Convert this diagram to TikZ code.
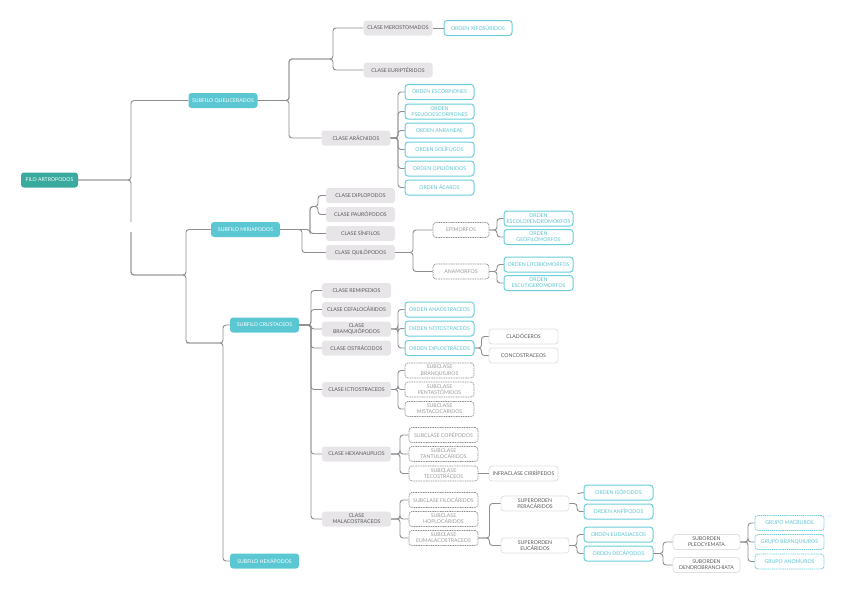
\documentclass[tikz,border=0pt]{standalone}
\usepackage{fontspec}
\setmainfont{Lato}
\definecolor{filoc}{HTML}{3AAA9F}
\definecolor{subc}{HTML}{5BC7D3}
\definecolor{cyanb}{HTML}{6ACFDA}
\definecolor{cyant}{HTML}{5CC4D1}
\definecolor{classf}{HTML}{E7E5E8}
\definecolor{classt}{HTML}{595959}
\definecolor{lineg}{HTML}{8E8E8E}
\definecolor{dashg}{HTML}{8C8C8C}
\definecolor{dasht}{HTML}{9A9A9A}
\definecolor{lightb}{HTML}{E0E0E0}
\begin{document}
\begin{tikzpicture}[x=1pt,y=-1pt,
  box/.style={rounded corners=3pt, minimum width=69pt, minimum height=15pt, inner sep=1pt, align=center, font=\fontsize{5.2}{6.2}\selectfont},
  filo/.style={box, fill=filoc, text=white, minimum width=57pt},
  sub/.style={box, fill=subc, text=white},
  cls/.style={box, fill=classf, text=classt},
  ord/.style={box, draw=cyanb, line width=1pt, fill=white, text=cyant},
  dsh/.style={box, draw=dashg, dash pattern=on 1pt off 0.7pt, line width=0.7pt, fill=white, text=dasht},
  plain/.style={box, draw=lightb, line width=0.8pt, fill=white, text=classt},
  grp/.style={box, draw=cyanb, dash pattern=on 1.2pt off 0.7pt, line width=0.9pt, fill=white, text=cyant},
  conn/.style={draw=lineg, line width=0.9pt, rounded corners=3pt}]
\useasboundingbox (0,0) rectangle (848,595);
% nodes
\node[filo] (filo) at (49.5,180) {FILO ARTROPODOS};
\node[sub] (quel) at (223,100.5) {SUBFILO QUELICERADOS};
\node[sub] (miri) at (245.5,229.5) {SUBFILO MIRIAPODOS};
\node[sub] (crus) at (264.5,325) {SUBFILO CRUSTACEOS};
\node[sub] (hexa) at (264.5,561) {SUBFILO HEXÁPODOS};
\node[cls] (mero) at (398,28) {CLASE MEROSTOMADOS};
\node[cls] (euri) at (398,70) {CLASE EURIPTÉRIDOS};
\node[cls] (arac) at (356,138) {CLASE ARÁCNIDOS};
\node[ord, minimum width=68pt] (xifo) at (478,28) {ORDEN XIFOSÚRIDOS};
\node[ord] (escor) at (439.5,92) {ORDEN ESCORPIONES};
\node[ord] (pseudo) at (439.5,111.5) {ORDEN\\PSEUDOESCORPIONES};
\node[ord] (anra) at (439.5,130.5) {ORDEN ANRANEAE};
\node[ord] (soli) at (439.5,149.5) {ORDEN SOLÍFUGOS};
\node[ord] (opil) at (439.5,168.5) {ORDEN OPILIÓNIDOS};
\node[ord] (acar) at (439.5,187.5) {ORDEN ÁCAROS};
\node[cls] (diplo) at (360.5,195.5) {CLASE DIPLOPODOS};
\node[cls] (pauro) at (360.5,214.5) {CLASE PAURÓPODOS};
\node[cls] (sinf) at (360.5,233.5) {CLASE SÍNFILOS};
\node[cls] (quilo) at (360.5,252.5) {CLASE QUILÓPODOS};
\node[dsh, minimum width=56pt] (epim) at (461,230) {EPIMORFOS};
\node[dsh, minimum width=56pt] (anam) at (461,271.5) {ANAMORFOS};
\node[ord] (escol) at (538.5,218.5) {ORDEN\\ESCOLOPENDROMORFOS};
\node[ord] (geof) at (538.5,237) {ORDEN\\GEOFILOMORFOS};
\node[ord] (lito) at (538.5,264.5) {ORDEN LITOBIOMORFOS};
\node[ord] (escut) at (538.5,283) {ORDEN\\ESCUTIGEROMORFOS};
\node[cls] (remi) at (356.5,290.5) {CLASE REMIPEDIOS};
\node[cls] (cefa) at (356.5,309.5) {CLASE CEFALOCÁRIDOS};
\node[cls] (bran) at (356.5,329) {CLASE\\BRAMQUIÓPODOS};
\node[cls] (ostr) at (356.5,348) {CLASE OSTRÁCODOS};
\node[cls] (icti) at (356.5,389.5) {CLASE ICTIOSTRACEOS};
\node[cls] (hexn) at (356.5,454) {CLASE HEXANAUPLIOS};
\node[cls] (mala) at (356.5,519) {CLASE\\MALACOSTRACEOS};
\node[ord] (anao) at (439.5,309.5) {ORDEN ANAOSTRACEOS};
\node[ord] (noto) at (439.5,328.5) {ORDEN NOTOSTRACEOS};
\node[ord] (dipl) at (439.5,348) {ORDEN DIPLOSTRÁCEOS};
\node[plain] (clad) at (523.5,336.5) {CLADÓCEROS};
\node[plain] (conc) at (523.5,355.5) {CONCOSTRACEOS};
\node[dsh] (sbran) at (439.5,370.5) {SUBCLASE\\BRANQUIUROS};
\node[dsh] (spent) at (439.5,389.5) {SUBCLASE\\PENTASTÓMIDOS};
\node[dsh] (smist) at (439.5,409) {SUBCLASE\\MISTACOCARIDOS};
\node[dsh] (scope) at (443.5,435) {SUBCLASE COPÉPODOS};
\node[dsh] (stant) at (443.5,454) {SUBCLASE\\TANTULOCÁRIDOS};
\node[dsh] (stec) at (443.5,473.5) {SUBCLASE\\TECOSTRÁCEOS};
\node[plain] (cirr) at (523.5,473.5) {INFRACLASE CIRRÍPEDOS};
\node[dsh] (sfilo) at (443.5,500) {SUBCLASE FILOCÁRIDOS};
\node[dsh] (shopl) at (443.5,519) {SUBCLASE\\HOPLOCÁRIDOS};
\node[dsh] (seuma) at (443.5,538) {SUBCLASE\\EUMALACOSTRACEOS};
\node[plain, minimum width=68pt] (pera) at (535,503.5) {SUPERORDEN\\PERACÁRIDOS};
\node[plain, minimum width=68pt] (euca) at (535,545.5) {SUPERORDEN\\EUCÁRIDOS};
\node[ord] (iso) at (618.5,492.5) {ORDEN ISÓPODOS};
\node[ord] (anfi) at (618.5,511.5) {ORDEN ANFÍPODOS};
\node[ord] (euda) at (618.5,534.5) {ORDEN EUDASIACEOS};
\node[ord] (deca) at (618.5,553.5) {ORDEN DECÁPODOS};
\node[plain, minimum width=67pt] (pleo) at (706.5,542) {SUBORDEN\\PLEOCYEMATA};
\node[plain, minimum width=67pt] (dend) at (706.5,565) {SUBORDEN\\DENDROBRANCHIATA};
\node[grp] (macr) at (789.5,523) {GRUPO MACRUROS};
\node[grp] (gbran) at (789.5,542) {GRUPO BRANQUIUROS};
\node[grp] (anom) at (789.5,561.5) {GRUPO ANOMUROS};
% trunk
\coordinate (gapa) at (131,222);
\coordinate (gapb) at (131,232);
\draw[conn] (filo.east) -- (131,180) |- (quel.west);
\draw[conn] (filo.east) -- (131,180) -- (gapa);
\draw[conn] (gapb) -- (131,275) -- (186,275) |- (miri.west);
\draw[conn] (gapb) -- (131,275) -- (186,275) -- (186,343) -- (223,343) |- (crus.west);
\draw[conn] (186,343) -- (223,343) |- (hexa.west);
% quelicerados
\draw[conn] (quel.east) -- (289,100.5) |- (333,59) |- (mero.west);
\draw[conn] (quel.east) -- (289,100.5) |- (333,59) |- (euri.west);
\draw[conn] (quel.east) -- (289,100.5) |- (arac.west);
\draw[conn] (mero.east) -- (xifo.west);
\foreach \c in {escor,pseudo,anra,soli,opil,acar}
  \draw[conn] (arac.east) -- (398,138) |- (\c.west);
% miriapodos
\draw[conn] (miri.east) -- (302,229.5) |- (quilo.west);
\draw[conn] (miri.east) -- (310,229.5) |- (sinf.west);
\draw[conn] (310,229.5) |- (318,206.5) |- (diplo.west);
\draw[conn] (310,229.5) |- (318,206.5) |- (pauro.west);
\draw[conn] (quilo.east) -- (413,252.5) |- (epim.west);
\draw[conn] (quilo.east) -- (413,252.5) |- (anam.west);
\draw[conn] (epim.east) -- (497,230) |- (escol.west);
\draw[conn] (epim.east) -- (497,230) |- (geof.west);
\draw[conn] (anam.east) -- (497,271.5) |- (lito.west);
\draw[conn] (anam.east) -- (497,271.5) |- (escut.west);
% crustaceos
\foreach \c in {remi,cefa,bran,ostr,icti,hexn,mala}
  \draw[conn] (crus.east) -- (311,325) |- (\c.west);
\foreach \c in {anao,noto,dipl}
  \draw[conn] (bran.east) -- (398,329) |- (\c.west);
\foreach \c in {clad,conc}
  \draw[conn] (dipl.east) -- (481.5,348) |- (\c.west);
\foreach \c in {sbran,spent,smist}
  \draw[conn] (icti.east) -- (398,389.5) |- (\c.west);
\foreach \c in {scope,stant,stec}
  \draw[conn] (hexn.east) -- (400,454) |- (\c.west);
\draw[conn] (stec.east) -- (cirr.west);
\foreach \c in {sfilo,shopl,seuma}
  \draw[conn] (mala.east) -- (400,519) |- (\c.west);
\foreach \c in {pera,euca}
  \draw[conn] (seuma.east) -- (489.5,538) |- (\c.west);
\draw[conn] (pera.east) -- (577,503.5) |- (anfi.west);
\coordinate (isostub) at (577.5,493.5);
\draw[conn] (isostub) -- (iso.west);
\foreach \c in {euda,deca}
  \draw[conn] (euca.east) -- (577,545.5) |- (\c.west);
\foreach \c in {pleo,dend}
  \draw[conn] (deca.east) -- (663,553.5) |- (\c.west);
\foreach \c in {macr,gbran,anom}
  \draw[conn] (pleo.east) -- (748,542) |- (\c.west);
\end{tikzpicture}
\end{document}
